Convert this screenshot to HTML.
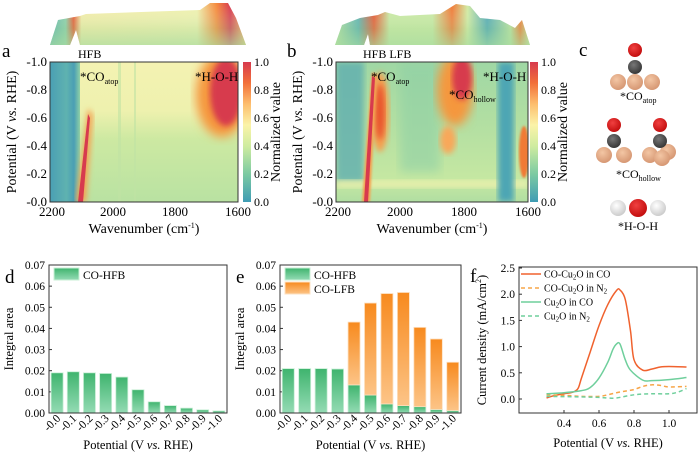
<!DOCTYPE html>
<html><head><meta charset="utf-8">
<style>
html,body{margin:0;padding:0;background:#fff;}
svg{display:block;font-family:"Liberation Serif",serif;}
</style></head>
<body>
<svg id="fig" width="700" height="454" viewBox="0 0 700 454" xmlns="http://www.w3.org/2000/svg">
<defs>
  <linearGradient id="cbar" x1="0" y1="1" x2="0" y2="0">
    <stop offset="0" stop-color="#3f9cb4"/><stop offset="0.2" stop-color="#7ccaa2"/>
    <stop offset="0.4" stop-color="#cfeca0"/><stop offset="0.55" stop-color="#fbf3a8"/>
    <stop offset="0.7" stop-color="#fdbe6e"/><stop offset="0.85" stop-color="#f2703a"/>
    <stop offset="1" stop-color="#d73a4e"/>
  </linearGradient>
  <linearGradient id="bgA" x1="0" y1="0" x2="0" y2="1">
    <stop offset="0" stop-color="#f4f2b2"/><stop offset="0.35" stop-color="#eef1ae"/>
    <stop offset="0.55" stop-color="#cde9a2"/><stop offset="1" stop-color="#b9e2a2"/>
  </linearGradient>
  <linearGradient id="leftA" x1="0" y1="0" x2="1" y2="0">
    <stop offset="0" stop-color="#4a9fb4"/><stop offset="0.55" stop-color="#5fb2b0"/><stop offset="0.8" stop-color="#4a9fb4"/><stop offset="1" stop-color="#8fd0a6"/>
  </linearGradient>
  <linearGradient id="bgB" x1="0" y1="0" x2="0" y2="1">
    <stop offset="0" stop-color="#9fd7a4"/><stop offset="0.5" stop-color="#b5e0a2"/>
    <stop offset="0.85" stop-color="#c6e8a2"/><stop offset="1" stop-color="#b0dea2"/>
  </linearGradient>
  <linearGradient id="gbar" x1="0" y1="0" x2="0" y2="1">
    <stop offset="0" stop-color="#3fb46e"/><stop offset="1" stop-color="#94dbb4"/>
  </linearGradient>
  <linearGradient id="obar" x1="0" y1="0" x2="0" y2="1">
    <stop offset="0" stop-color="#f78a1e"/><stop offset="1" stop-color="#fcc487"/>
  </linearGradient>
  <linearGradient id="surfA" x1="0" y1="0" x2="1" y2="0">
    <stop offset="0" stop-color="#5ab0b0"/><stop offset="0.08" stop-color="#88cca8"/>
    <stop offset="0.12" stop-color="#e8542e"/><stop offset="0.16" stop-color="#f3eca8"/>
    <stop offset="0.75" stop-color="#eef0ae"/><stop offset="0.85" stop-color="#f58a3c"/>
    <stop offset="0.92" stop-color="#d73a4e"/><stop offset="1" stop-color="#f3c070"/>
  </linearGradient>
  <linearGradient id="surfShade" x1="0" y1="0" x2="0" y2="1">
    <stop offset="0" stop-color="#fff" stop-opacity="0"/><stop offset="0.6" stop-color="#a8dca0" stop-opacity="0.3"/><stop offset="1" stop-color="#a8dca0" stop-opacity="0.7"/>
  </linearGradient>
  <linearGradient id="surfB" x1="0" y1="0" x2="1" y2="0">
    <stop offset="0" stop-color="#b8e0a0"/><stop offset="0.12" stop-color="#5ab0b0"/>
    <stop offset="0.2" stop-color="#e8542e"/><stop offset="0.28" stop-color="#c8e8a2"/>
    <stop offset="0.5" stop-color="#c8e8a2"/><stop offset="0.6" stop-color="#f07a36"/>
    <stop offset="0.68" stop-color="#d0eaa2"/><stop offset="0.78" stop-color="#4ea6b4"/>
    <stop offset="0.9" stop-color="#b8e0a0"/><stop offset="0.95" stop-color="#f07a36"/><stop offset="1" stop-color="#c8e8a2"/>
  </linearGradient>
  <filter id="bl3"><feGaussianBlur stdDeviation="3"/></filter>
  <filter id="bl5"><feGaussianBlur stdDeviation="5"/></filter>
  <filter id="bl1"><feGaussianBlur stdDeviation="1"/></filter>
  <radialGradient id="cu" cx="0.4" cy="0.35" r="0.7"><stop offset="0" stop-color="#f3c6a4"/><stop offset="1" stop-color="#d49470"/></radialGradient>
  <radialGradient id="ox" cx="0.4" cy="0.35" r="0.7"><stop offset="0" stop-color="#f04040"/><stop offset="1" stop-color="#c00a0a"/></radialGradient>
  <radialGradient id="ca" cx="0.4" cy="0.35" r="0.7"><stop offset="0" stop-color="#777"/><stop offset="1" stop-color="#333"/></radialGradient>
  <radialGradient id="hy" cx="0.4" cy="0.35" r="0.7"><stop offset="0" stop-color="#ffffff"/><stop offset="1" stop-color="#c8c8c8"/></radialGradient>
  <clipPath id="clipA"><rect x="50" y="62" width="188" height="140"/></clipPath>
  <clipPath id="clipB"><rect x="336" y="62" width="192" height="140"/></clipPath>
</defs>

<!-- Panel a -->
<g>
  <polygon points="50,45 58,20 80,16 86,14 200,10 210,3 228,3 236,18 246,45 80,45 76,30 70,45" fill="url(#surfA)"/>
  <polygon points="50,45 58,20 80,16 86,14 200,10 210,3 228,3 236,18 246,45 80,45 76,30 70,45" fill="url(#surfShade)"/>
  <text x="2" y="57" font-size="19">a</text>
  <text x="78" y="58" font-size="12">HFB</text>
  <g clip-path="url(#clipA)">
    <rect x="50" y="62" width="188" height="140" fill="url(#bgA)"/>
    <rect x="50" y="62" width="30" height="140" fill="url(#leftA)"/>
    <rect x="118" y="62" width="3" height="140" fill="#bfe2a4" opacity="0.6"/>
    <rect x="134" y="62" width="2" height="140" fill="#bfe2a4" opacity="0.6"/>
    <ellipse cx="222" cy="95" rx="26" ry="42" fill="#f5973e" filter="url(#bl5)"/>
    <ellipse cx="226" cy="92" rx="16" ry="34" fill="#d73a4e" filter="url(#bl3)"/>
    <polygon points="76,202 86,202 93,115 88,108" fill="#f5a050" filter="url(#bl3)"/>
    <polygon points="78,202 83,202 90,118 88,114" fill="#d73a4e"/>
  </g>
  <rect x="50" y="62" width="188" height="140" fill="none" stroke="#333" stroke-width="1"/>
  <text x="80" y="81" font-size="13">*CO<tspan font-size="8" dy="3">atop</tspan></text>
  <text x="195" y="81" font-size="13">*H-O-H</text>
  <rect x="243" y="62" width="8" height="140" fill="url(#cbar)"/>
  <g font-size="12">
    <text x="254" y="66">1.0</text><text x="254" y="94">0.8</text><text x="254" y="122">0.6</text>
    <text x="254" y="150">0.4</text><text x="254" y="178">0.2</text><text x="254" y="206">0.0</text>
  </g>
  <text transform="translate(280,132) rotate(-90)" text-anchor="middle" font-size="14">Normalized value</text>
  <g font-size="13" text-anchor="end">
    <text x="47" y="66">-1.0</text><text x="47" y="94">-0.8</text><text x="47" y="122">-0.6</text>
    <text x="47" y="150">-0.4</text><text x="47" y="178">-0.2</text><text x="47" y="206">-0.0</text>
  </g>
  <g font-size="13" text-anchor="middle">
    <text x="52" y="216">2200</text><text x="113" y="216">2000</text><text x="175" y="216">1800</text><text x="238" y="216">1600</text>
  </g>
  <text x="144" y="233" text-anchor="middle" font-size="14">Wavenumber (cm<tspan font-size="8" dy="-5">-1</tspan><tspan dy="5">)</tspan></text>
  <text transform="translate(16,132) rotate(-90)" text-anchor="middle" font-size="14">Potential (V <tspan font-style="italic">vs.</tspan> RHE)</text>
</g>

<!-- Panel b -->
<g>
  <polygon points="335,45 342,25 360,18 378,15 385,12 400,16 440,14 456,4 470,6 480,18 500,20 515,28 522,20 530,45 370,45 368,34 364,45" fill="url(#surfB)"/>
  <polygon points="335,45 342,25 360,18 378,15 385,12 400,16 440,14 456,4 470,6 480,18 500,20 515,28 522,20 530,45 370,45 368,34 364,45" fill="url(#surfShade)"/>
  <text x="287" y="57" font-size="19">b</text>
  <text x="363" y="58" font-size="12">HFB  LFB</text>
  <g clip-path="url(#clipB)">
    <rect x="336" y="62" width="192" height="140" fill="url(#bgB)"/>
    <rect x="336" y="62" width="28" height="120" fill="#5eaeb0" opacity="0.8" filter="url(#bl3)"/>
    <rect x="400" y="62" width="40" height="110" fill="#8fd0a6" opacity="0.6" filter="url(#bl5)"/>
    <rect x="336" y="180" width="192" height="8" fill="#eef1ae" opacity="0.8" filter="url(#bl3)"/>
    <rect x="498" y="62" width="16" height="140" fill="#4ea6b4" filter="url(#bl3)"/>
    <ellipse cx="524" cy="152" rx="5" ry="26" fill="#f07a36" filter="url(#bl1)"/>
    <ellipse cx="380" cy="112" rx="9" ry="40" fill="#f5a050" filter="url(#bl3)"/>
    <ellipse cx="380" cy="112" rx="5" ry="28" fill="#e8542e" filter="url(#bl3)"/>
    <ellipse cx="455" cy="90" rx="18" ry="36" fill="#f5973e" filter="url(#bl5)"/>
    <ellipse cx="448" cy="140" rx="8" ry="14" fill="#f8a85a" filter="url(#bl3)"/>
    <ellipse cx="462" cy="78" rx="10" ry="22" fill="#d73a4e" filter="url(#bl3)"/>
    <polygon points="362,202 370,202 377,75 372,72" fill="#f5a050" filter="url(#bl1)"/>
    <polygon points="364,202 368,202 375,78 372,76" fill="#d73a4e"/>
  </g>
  <rect x="336" y="62" width="192" height="140" fill="none" stroke="#333" stroke-width="1"/>
  <text x="371" y="81" font-size="13">*CO<tspan font-size="8" dy="3">atop</tspan></text>
  <text x="449" y="99" font-size="13">*CO<tspan font-size="8" dy="3">hollow</tspan></text>
  <text x="483" y="81" font-size="13">*H-O-H</text>
  <rect x="530" y="62" width="8" height="140" fill="url(#cbar)"/>
  <g font-size="12">
    <text x="541" y="66">1.0</text><text x="541" y="94">0.8</text><text x="541" y="122">0.6</text>
    <text x="541" y="150">0.4</text><text x="541" y="178">0.2</text><text x="541" y="206">0.0</text>
  </g>
  <text transform="translate(567,132) rotate(-90)" text-anchor="middle" font-size="14">Normalized value</text>
  <g font-size="13" text-anchor="end">
    <text x="333" y="66">-1.0</text><text x="333" y="94">-0.8</text><text x="333" y="122">-0.6</text>
    <text x="333" y="150">-0.4</text><text x="333" y="178">-0.2</text><text x="333" y="206">-0.0</text>
  </g>
  <g font-size="13" text-anchor="middle">
    <text x="338" y="216">2200</text><text x="400" y="216">2000</text><text x="464" y="216">1800</text><text x="528" y="216">1600</text>
  </g>
  <text x="432" y="233" text-anchor="middle" font-size="14">Wavenumber (cm<tspan font-size="8" dy="-5">-1</tspan><tspan dy="5">)</tspan></text>
  <text transform="translate(302,132) rotate(-90)" text-anchor="middle" font-size="14">Potential (V <tspan font-style="italic">vs.</tspan> RHE)</text>
</g>

<!-- Panel c -->
<g>
  <text x="579" y="56" font-size="19">c</text>
  <g>
    <circle cx="618" cy="82" r="8" fill="url(#cu)"/><circle cx="652" cy="82" r="8" fill="url(#cu)"/><circle cx="635" cy="82" r="8" fill="url(#cu)"/>
    <circle cx="635" cy="67" r="7" fill="url(#ca)"/><circle cx="635" cy="50" r="7" fill="url(#ox)"/>
  </g>
  <text x="620" y="100" font-size="12">*CO<tspan font-size="8" dy="3">atop</tspan></text>
  <g>
    <circle cx="604" cy="155" r="8" fill="url(#cu)"/><circle cx="624" cy="155" r="8" fill="url(#cu)"/>
    <circle cx="614" cy="141" r="7" fill="url(#ca)"/><circle cx="614" cy="125" r="7" fill="url(#ox)"/>
    <circle cx="650" cy="155" r="8" fill="url(#cu)"/><circle cx="668" cy="152" r="8" fill="url(#cu)"/><circle cx="662" cy="158" r="8" fill="url(#cu)"/>
    <circle cx="660" cy="141" r="7" fill="url(#ca)"/><circle cx="660" cy="125" r="7" fill="url(#ox)"/>
  </g>
  <text x="616" y="178" font-size="12">*CO<tspan font-size="8" dy="3">hollow</tspan></text>
  <g>
    <circle cx="618" cy="208" r="8" fill="url(#hy)"/><circle cx="658" cy="208" r="8" fill="url(#hy)"/><circle cx="638" cy="208" r="9" fill="url(#ox)"/>
  </g>
  <text x="618" y="230" font-size="12">*H-O-H</text>
</g>

<g id="gd"></g>
<g id="ge"></g>
<g id="gf"></g>
</svg>

<script>
const potLabels = ["-0.0","-0.1","-0.2","-0.3","-0.4","-0.5","-0.6","-0.7","-0.8","-0.9","-1.0"];
const dHFB = [0.019,0.0195,0.019,0.0187,0.017,0.011,0.0053,0.0035,0.0023,0.0015,0.001];
const eHFB = [0.021,0.021,0.021,0.0208,0.0133,0.0085,0.0043,0.0035,0.003,0.0017,0.0012];
const eLFB = [0,0,0,0,0.0297,0.0435,0.0522,0.0535,0.0375,0.0333,0.0228];
const barTicks = [0,0.01,0.02,0.03,0.04,0.05,0.06,0.07];

const fX = [0.3,0.35,0.4,0.45,0.48,0.5,0.55,0.6,0.65,0.7,0.72,0.75,0.78,0.8,0.85,0.9,0.95,1.0,1.1];
const fCOinCO = [0.02,0.07,0.1,0.13,0.2,0.4,0.9,1.4,1.8,2.07,2.08,1.9,1.3,0.75,0.55,0.57,0.61,0.62,0.61];
const fXb = [0.3,0.4,0.5,0.6,0.65,0.7,0.75,0.8,0.85,0.9,0.95,1.0,1.1];
const fCOinN2 = [0.08,0.07,0.05,0.05,0.08,0.12,0.15,0.18,0.24,0.27,0.26,0.23,0.24];
const fXc = [0.3,0.4,0.5,0.55,0.6,0.65,0.68,0.7,0.72,0.75,0.78,0.85,0.9,1.0,1.1];
const fCuinCO = [0.1,0.12,0.16,0.22,0.4,0.7,0.95,1.05,1.05,0.75,0.55,0.36,0.35,0.37,0.41];
const fXd = [0.3,0.5,0.6,0.65,0.7,0.8,0.9,1.0,1.05,1.1];
const fCuinN2 = [0.05,0.04,0.03,0.02,0.02,0.08,0.1,0.1,0.13,0.2];
const fYTicks = [0,0.5,1.0,1.5,2.0,2.5];
const fXTicks = [0.4,0.6,0.8,1.0];

const NS = "http://www.w3.org/2000/svg";
function mk(parent, tag, attrs, text) {
  const el = document.createElementNS(NS, tag);
  for (const k in attrs) el.setAttribute(k, attrs[k]);
  if (text !== undefined) el.textContent = text;
  parent.appendChild(el);
  return el;
}

function barPanel(g, x0, x1, label, series, legend) {
  const y0 = 413, y1 = 265;
  const ys = v => y0 - v / 0.07 * (y0 - y1);
  const slot = (x1 - x0) / potLabels.length;
  const xs = i => x0 + (i + 0.5) * slot;
  const t = mk(g, "text", {x: x0 - 44, y: 283, "font-size": 19}, label);
  
  
  barTicks.forEach(v => {
    const tk = mk(g, "text", {x: x0 - 4, y: ys(v) + 4, "font-size": 11.5, "text-anchor": "end"}, v.toFixed(2));
    
    
    mk(g, "line", {x1: x0, x2: x0 + 3, y1: ys(v), y2: ys(v), stroke: "#333"});
  });
  potLabels.forEach((l, i) => {
    const tx = mk(g, "text", {x: 0, y: 0, "font-size": 11.5, "text-anchor": "end", transform: `translate(${xs(i) + 4},${y0 + 6}) rotate(-45)`}, l);
    
    
  });
  series.forEach((s, si) => {
    s.vals.forEach((v, i) => {
      if (v <= 0) return;
      const base = si === 0 ? 0 : series[0].vals[i];
      const r = mk(g, "rect", {x: xs(i) - 6, y: ys(base + v), width: 12, height: ys(base) - ys(base + v), fill: s.fill, stroke: s.stroke, "stroke-width": 0.8});
      
      
    });
  });
  const fr = mk(g, "rect", {x: x0, y: y1, width: x1 - x0, height: y0 - y1, fill: "none", stroke: "#333"});
  
  
  legend.forEach((s, k) => {
    const sw = mk(g, "rect", {x: x0 + 5, y: 268 + k * 14, width: 25, height: 12, fill: s.fill, stroke: s.stroke});
    
    
    const lt = mk(g, "text", {x: x0 + 34, y: 279 + k * 14, "font-size": 11.5}, "CO-" + s.name);
    
    
  });
  const yt = mk(g, "text", {transform: `translate(${x0 - 36},339) rotate(-90)`, "text-anchor": "middle", "font-size": 12.5}, "Integral area");
  
  
  const xt = mk(g, "text", {x: (x0 + x1) / 2, y: 449, "text-anchor": "middle", "font-size": 12.5});
  
  
  xt.innerHTML = 'Potential (V <tspan font-style="italic">vs.</tspan> RHE)';
}

const sH = {name: "HFB", vals: dHFB, fill: "url(#gbar)", stroke: "#c9efd6"};
barPanel(document.getElementById("gd"), 49, 227, "d", [sH], [sH]);
const sH2 = {name: "HFB", vals: eHFB, fill: "url(#gbar)", stroke: "#c9efd6"};
const sL = {name: "LFB", vals: eLFB, fill: "url(#obar)", stroke: "#fde0c0"};
barPanel(document.getElementById("ge"), 280, 461, "e", [sH2, sL], [sH2, sL]);

// Panel f
(function () {
  const g = document.getElementById("gf");
  const X0 = 519, X1 = 697, Y0 = 413, Y1 = 267;
  const xs = v => 546.5 + (v - 0.3) / 0.1 * 17.5;
  const ys = v => 399 - v / 0.5 * 26.2;
  const t = mk(g, "text", {x: 470, y: 282, "font-size": 19}, "f");
  
  
  fYTicks.forEach(v => {
    const tk = mk(g, "text", {x: X0 - 4, y: ys(v) + 4, "font-size": 11.5, "text-anchor": "end"}, v.toFixed(1));
    
    
    mk(g, "line", {x1: X0, x2: X0 + 3, y1: ys(v), y2: ys(v), stroke: "#333"});
  });
  fXTicks.forEach(v => {
    const tk = mk(g, "text", {x: xs(v), y: Y0 + 14, "font-size": 11.5, "text-anchor": "middle"}, v.toFixed(1));
    
    
    mk(g, "line", {x1: xs(v), x2: xs(v), y1: Y0, y2: Y0 - 3, stroke: "#333"});
  });
  const series = [
    {name: "co-cu2o-in-co", x: fX, y: fCOinCO, c: "#f0622e", d: ""},
    {name: "co-cu2o-in-n2", x: fXb, y: fCOinN2, c: "#f7a548", d: "4,3"},
    {name: "cu2o-in-co", x: fXc, y: fCuinCO, c: "#6fcf9c", d: ""},
    {name: "cu2o-in-n2", x: fXd, y: fCuinN2, c: "#6fcf9c", d: "4,3"}
  ];
  series.forEach(s => {
    const pts = s.x.map((v, i) => [xs(v), ys(s.y[i])]);
    let d = "M" + pts[0].join(",");
    for (let i = 1; i < pts.length; i++) {
      const p0 = pts[i - 2] || pts[i - 1], p1 = pts[i - 1], p2 = pts[i], p3 = pts[i + 1] || pts[i];
      const c1 = [p1[0] + (p2[0] - p0[0]) / 6, p1[1] + (p2[1] - p0[1]) / 6];
      const c2 = [p2[0] - (p3[0] - p1[0]) / 6, p2[1] - (p3[1] - p1[1]) / 6];
      d += ` C${c1.join(",")} ${c2.join(",")} ${p2.join(",")}`;
    }
    const p = mk(g, "path", {d: d, fill: "none", stroke: s.c, "stroke-width": 1.5, "stroke-dasharray": s.d});
    
    
  });
  const fr = mk(g, "rect", {x: X0, y: Y1, width: X1 - X0, height: Y0 - Y1, fill: "none", stroke: "#333"});
  
  
  const leg = [
    ['CO-Cu<tspan font-size="7" dy="2">2</tspan><tspan dy="-2">O in CO</tspan>', "#f0622e", ""],
    ['CO-Cu<tspan font-size="7" dy="2">2</tspan><tspan dy="-2">O in N</tspan><tspan font-size="7" dy="2">2</tspan>', "#f7a548", "4,3"],
    ['Cu<tspan font-size="7" dy="2">2</tspan><tspan dy="-2">O in CO</tspan>', "#6fcf9c", ""],
    ['Cu<tspan font-size="7" dy="2">2</tspan><tspan dy="-2">O in N</tspan><tspan font-size="7" dy="2">2</tspan>', "#6fcf9c", "4,3"]
  ];
  leg.forEach((l, k) => {
    const y = 274 + k * 14;
    const ln = mk(g, "line", {x1: 521, x2: 541, y1: y, y2: y, stroke: l[1], "stroke-width": 1.5, "stroke-dasharray": l[2]});
    
    
    const tx = mk(g, "text", {x: 544, y: y + 3.5, "font-size": 10});
    tx.innerHTML = l[0];
    
    
  });
  const yt = mk(g, "text", {transform: "translate(486,340) rotate(-90)", "text-anchor": "middle", "font-size": 12.5});
  yt.innerHTML = 'Current density (mA/cm<tspan font-size="8" dy="-5">2</tspan><tspan dy="5">)</tspan>';
  
  
  const xt = mk(g, "text", {x: 608, y: 447, "text-anchor": "middle", "font-size": 12.5});
  xt.innerHTML = 'Potential (V <tspan font-style="italic">vs.</tspan> RHE)';
  
  
})();
</script>
</body></html>
